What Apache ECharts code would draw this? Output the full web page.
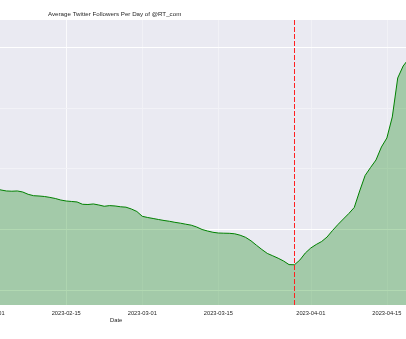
<!DOCTYPE html>
<html>
<head>
<meta charset="utf-8">
<script src="https://cdn.jsdelivr.net/npm/echarts@6/dist/echarts.min.js"></script>
<style>
  html, body { margin: 0; padding: 0; background: #ffffff; }
  #chart { width: 406px; height: 339px; }
</style>
</head>
<body>
<div id="chart"></div>
<script>
// Daily dates on the x axis
const dates = [
  '2023-02-01','2023-02-02','2023-02-03','2023-02-04','2023-02-05','2023-02-06','2023-02-07',
  '2023-02-08','2023-02-09','2023-02-10','2023-02-11','2023-02-12','2023-02-13','2023-02-14',
  '2023-02-15','2023-02-16','2023-02-17','2023-02-18','2023-02-19','2023-02-20','2023-02-21',
  '2023-02-22','2023-02-23','2023-02-24','2023-02-25','2023-02-26','2023-02-27','2023-02-28',
  '2023-03-01','2023-03-02','2023-03-03','2023-03-04','2023-03-05','2023-03-06','2023-03-07',
  '2023-03-08','2023-03-09','2023-03-10','2023-03-11','2023-03-12','2023-03-13','2023-03-14',
  '2023-03-15','2023-03-16','2023-03-17','2023-03-18','2023-03-19','2023-03-20','2023-03-21',
  '2023-03-22','2023-03-23','2023-03-24','2023-03-25','2023-03-26','2023-03-27','2023-03-28',
  '2023-03-29','2023-03-30','2023-03-31','2023-04-01','2023-04-02','2023-04-03','2023-04-04',
  '2023-04-05','2023-04-06','2023-04-07','2023-04-08','2023-04-09','2023-04-10','2023-04-11',
  '2023-04-12','2023-04-13','2023-04-14','2023-04-15','2023-04-16','2023-04-17','2023-04-18',
  '2023-04-19'
];

// Average followers per day
const followers = [
  3101679, 3101671, 3101646, 3101630, 3101626, 3101630, 3101613,
  3101575, 3101552, 3101547, 3101539, 3101524, 3101506, 3101481,
  3101465, 3101457, 3101449, 3101411, 3101407, 3101416, 3101399,
  3101378, 3101389, 3101383, 3101370, 3101363, 3101333, 3101292,
  3101213, 3101193, 3101177, 3101160, 3101144, 3101131, 3101114,
  3101100, 3101083, 3101067, 3101037, 3100996, 3100971, 3100950,
  3100938, 3100935, 3100933, 3100925, 3100902, 3100867, 3100810,
  3100737, 3100667, 3100602, 3100563, 3100523, 3100477, 3100418,
  3100415, 3100494, 3100609, 3100691, 3100749, 3100798, 3100872,
  3100979, 3101078, 3101169, 3101259, 3101358, 3101630, 3101885,
  3102016, 3102140, 3102354, 3102502, 3102848, 3103490, 3103687,
  3103802
];

// Labelled dates on the x axis
const tickDates = ['2023-02-01', '2023-02-15', '2023-03-01', '2023-03-15', '2023-04-01', '2023-04-15'];

// Event marker date
const eventDate = '2023-03-29';

// Horizontal reference levels
const yGridMin = 3100000;
const yGridMax = 3104000;
const yGridStep = 1000;

const titleText = 'Average Twitter Followers Per Day of @RT_com';
const xLabelText = 'Date';

const FONT = '"Liberation Sans", Arial, sans-serif';
const isTick = (idx, val) => tickDates.indexOf(val) !== -1;

const chart = echarts.init(document.getElementById('chart'), null, { renderer: 'canvas' });

chart.setOption({
  animation: false,
  backgroundColor: '#ffffff',
  title: {
    text: titleText,
    left: 48,
    top: 11.5,
    padding: 0,
    textStyle: { fontFamily: FONT, fontSize: 6.2, fontWeight: 'normal', color: '#262626' }
  },
  graphic: [{
    type: 'text',
    left: 110,
    top: 317,
    style: { text: xLabelText, fontFamily: FONT, fontSize: 5.8, fill: '#262626' }
  }],
  grid: [
    {
      left: -9.9, right: -2.6, top: 20, bottom: 34,
      containLabel: false, outerBoundsMode: 'none',
      show: true, backgroundColor: '#eaeaf2', borderWidth: 0
    },
    { left: 0, right: 0, top: 47, bottom: 49, containLabel: false, outerBoundsMode: 'none', show: false }
  ],
  xAxis: [
    {
      type: 'category',
      gridIndex: 0,
      data: dates,
      boundaryGap: false,
      axisLine: { show: false },
      axisTick: { show: false },
      axisLabel: {
        interval: isTick,
        margin: 5,
        fontFamily: FONT,
        fontSize: 5.7,
        color: '#262626'
      },
      splitLine: {
        show: true,
        interval: isTick,
        lineStyle: { color: ['#f4f4f8', '#fafafc', '#f1f1f6', '#f1f1f6', '#f1f1f6', '#f1f1f6'], width: 1 }
      }
    },
    { type: 'value', gridIndex: 1, show: false, min: 0, max: 1 }
  ],
  yAxis: [
    {
      type: 'value',
      gridIndex: 0,
      min: 3099753,
      max: 3104444,
      show: false,
      splitLine: { show: false }
    },
    {
      type: 'value',
      gridIndex: 1,
      min: yGridMin,
      max: yGridMax,
      interval: yGridStep,
      z: 1,
      axisLine: { show: false },
      axisTick: { show: false },
      axisLabel: { show: false },
      splitLine: {
        show: true,
        lineStyle: { color: ['#ffffff', '#ffffff', '#f2f2f7', '#f2f2f7', '#ffffff'], width: 1 }
      }
    }
  ],
  series: [{
    type: 'line',
    xAxisIndex: 0,
    yAxisIndex: 0,
    data: followers,
    showSymbol: false,
    symbol: 'none',
    lineStyle: { color: '#008000', width: 1 },
    itemStyle: { color: '#008000' },
    areaStyle: { color: '#008000', opacity: 0.3, origin: 'start' },
    markLine: {
      silent: true,
      animation: false,
      symbol: ['none', 'none'],
      label: { show: false },
      itemStyle: { color: '#ff2020' },
      lineStyle: { color: '#ff2020', type: [5, 2], width: 1, opacity: 1 },
      emphasis: { disabled: true },
      data: [{ xAxis: eventDate }]
    }
  }]
});
</script>
</body>
</html>
